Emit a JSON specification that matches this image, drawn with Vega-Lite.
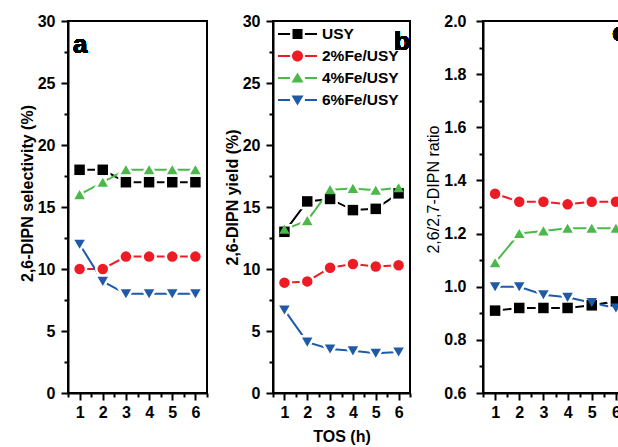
{
  "$schema": "https://vega.github.io/schema/vega-lite/v6.json",
  "padding": {"left": 18, "top": 12, "right": 0, "bottom": 0},
  "background": "white",
  "spacing": 11,
  "resolve": {"scale": {"color": "independent", "shape": "independent"}, "legend": {"color": "independent", "shape": "independent"}},
  "config": {
    "view": {"stroke": "black", "strokeWidth": 2},
    "axis": {"domainColor": "black", "domainWidth": 2, "tickColor": "black", "tickWidth": 2, "labelFont": "Liberation Sans", "labelFontWeight": "bold", "labelFontSize": 16, "labelColor": "black", "titleFont": "Liberation Sans", "titleFontWeight": "bold", "titleFontSize": 16, "titleColor": "black", "grid": false, "labelOverlap": false, "labelFlush": false},
    "text": {"font": "Liberation Sans", "fontWeight": "bold", "fontSize": 26, "color": "black"}
  },
  "data": {"values": [
    {"p": "a", "t": 1, "s": "USY", "v": 18}, {"p": "a", "t": 2, "s": "USY", "v": 18}, {"p": "a", "t": 3, "s": "USY", "v": 17}, {"p": "a", "t": 4, "s": "USY", "v": 17}, {"p": "a", "t": 5, "s": "USY", "v": 17}, {"p": "a", "t": 6, "s": "USY", "v": 17},
    {"p": "a", "t": 1, "s": "2%Fe/USY", "v": 10}, {"p": "a", "t": 2, "s": "2%Fe/USY", "v": 10}, {"p": "a", "t": 3, "s": "2%Fe/USY", "v": 11}, {"p": "a", "t": 4, "s": "2%Fe/USY", "v": 11}, {"p": "a", "t": 5, "s": "2%Fe/USY", "v": 11}, {"p": "a", "t": 6, "s": "2%Fe/USY", "v": 11},
    {"p": "a", "t": 1, "s": "4%Fe/USY", "v": 16}, {"p": "a", "t": 2, "s": "4%Fe/USY", "v": 17}, {"p": "a", "t": 3, "s": "4%Fe/USY", "v": 18}, {"p": "a", "t": 4, "s": "4%Fe/USY", "v": 18}, {"p": "a", "t": 5, "s": "4%Fe/USY", "v": 18}, {"p": "a", "t": 6, "s": "4%Fe/USY", "v": 18},
    {"p": "a", "t": 1, "s": "6%Fe/USY", "v": 12}, {"p": "a", "t": 2, "s": "6%Fe/USY", "v": 9}, {"p": "a", "t": 3, "s": "6%Fe/USY", "v": 8}, {"p": "a", "t": 4, "s": "6%Fe/USY", "v": 8}, {"p": "a", "t": 5, "s": "6%Fe/USY", "v": 8}, {"p": "a", "t": 6, "s": "6%Fe/USY", "v": 8},
    {"p": "b", "t": 1, "s": "USY", "v": 13.0}, {"p": "b", "t": 2, "s": "USY", "v": 15.45}, {"p": "b", "t": 3, "s": "USY", "v": 15.65}, {"p": "b", "t": 4, "s": "USY", "v": 14.75}, {"p": "b", "t": 5, "s": "USY", "v": 14.85}, {"p": "b", "t": 6, "s": "USY", "v": 16.1},
    {"p": "b", "t": 1, "s": "2%Fe/USY", "v": 8.9}, {"p": "b", "t": 2, "s": "2%Fe/USY", "v": 9.0}, {"p": "b", "t": 3, "s": "2%Fe/USY", "v": 10.1}, {"p": "b", "t": 4, "s": "2%Fe/USY", "v": 10.4}, {"p": "b", "t": 5, "s": "2%Fe/USY", "v": 10.2}, {"p": "b", "t": 6, "s": "2%Fe/USY", "v": 10.3},
    {"p": "b", "t": 1, "s": "4%Fe/USY", "v": 13.2}, {"p": "b", "t": 2, "s": "4%Fe/USY", "v": 13.9}, {"p": "b", "t": 3, "s": "4%Fe/USY", "v": 16.4}, {"p": "b", "t": 4, "s": "4%Fe/USY", "v": 16.5}, {"p": "b", "t": 5, "s": "4%Fe/USY", "v": 16.35}, {"p": "b", "t": 6, "s": "4%Fe/USY", "v": 16.55},
    {"p": "b", "t": 1, "s": "6%Fe/USY", "v": 6.7}, {"p": "b", "t": 2, "s": "6%Fe/USY", "v": 4.1}, {"p": "b", "t": 3, "s": "6%Fe/USY", "v": 3.55}, {"p": "b", "t": 4, "s": "6%Fe/USY", "v": 3.4}, {"p": "b", "t": 5, "s": "6%Fe/USY", "v": 3.2}, {"p": "b", "t": 6, "s": "6%Fe/USY", "v": 3.3},
    {"p": "c", "t": 1, "s": "USY", "v": 0.91}, {"p": "c", "t": 2, "s": "USY", "v": 0.92}, {"p": "c", "t": 3, "s": "USY", "v": 0.92}, {"p": "c", "t": 4, "s": "USY", "v": 0.92}, {"p": "c", "t": 5, "s": "USY", "v": 0.93}, {"p": "c", "t": 6, "s": "USY", "v": 0.945},
    {"p": "c", "t": 1, "s": "2%Fe/USY", "v": 1.35}, {"p": "c", "t": 2, "s": "2%Fe/USY", "v": 1.32}, {"p": "c", "t": 3, "s": "2%Fe/USY", "v": 1.32}, {"p": "c", "t": 4, "s": "2%Fe/USY", "v": 1.31}, {"p": "c", "t": 5, "s": "2%Fe/USY", "v": 1.32}, {"p": "c", "t": 6, "s": "2%Fe/USY", "v": 1.32},
    {"p": "c", "t": 1, "s": "4%Fe/USY", "v": 1.09}, {"p": "c", "t": 2, "s": "4%Fe/USY", "v": 1.2}, {"p": "c", "t": 3, "s": "4%Fe/USY", "v": 1.21}, {"p": "c", "t": 4, "s": "4%Fe/USY", "v": 1.22}, {"p": "c", "t": 5, "s": "4%Fe/USY", "v": 1.22}, {"p": "c", "t": 6, "s": "4%Fe/USY", "v": 1.22},
    {"p": "c", "t": 1, "s": "6%Fe/USY", "v": 1.0}, {"p": "c", "t": 2, "s": "6%Fe/USY", "v": 1.0}, {"p": "c", "t": 3, "s": "6%Fe/USY", "v": 0.97}, {"p": "c", "t": 4, "s": "6%Fe/USY", "v": 0.96}, {"p": "c", "t": 5, "s": "6%Fe/USY", "v": 0.94}, {"p": "c", "t": 6, "s": "6%Fe/USY", "v": 0.92}
  ]},
  "hconcat": [
    {
      "width": 139, "height": 372,
      "transform": [{"filter": "datum.p === 'a'"}],
      "encoding": {
        "x": {"field": "t", "type": "quantitative", "scale": {"domain": [0.5, 6.5], "nice": false, "zero": false},
          "axis": {"title": null, "values": [0.5, 1, 1.5, 2, 2.5, 3, 3.5, 4, 4.5, 5, 5.5, 6, 6.5], "labelExpr": "datum.value % 1 === 0 ? format(datum.value, 'd') : ''", "tickSize": {"condition": {"test": "datum.value % 1 === 0", "value": 7}, "value": 4}, "labelPadding": 4}},
        "y": {"field": "v", "type": "quantitative", "scale": {"domain": [0, 30], "nice": false},
          "axis": {"title": "2,6-DIPN selectivity (%)", "titleY": 172, "values": [0, 2.5, 5, 7.5, 10, 12.5, 15, 17.5, 20, 22.5, 25, 27.5, 30], "labelExpr": "datum.value % 5 === 0 ? format(datum.value, 'd') : ''", "tickSize": {"condition": {"test": "datum.value % 5 === 0", "value": 7}, "value": 4}, "labelPadding": 6, "titlePadding": 2}},
        "color": {"field": "s", "type": "nominal", "scale": {"domain": ["USY", "2%Fe/USY", "4%Fe/USY", "6%Fe/USY"], "range": ["#000000", "#ed1c24", "#4cb849", "#1f5aa8"]}, "legend": null}
      },
      "layer": [
        {"mark": {"type": "line", "strokeWidth": 2}},
        {"mark": {"type": "point", "filled": true, "opacity": 1, "size": 110, "stroke": "white", "strokeWidth": 5},
          "encoding": {"shape": {"field": "s", "type": "nominal", "scale": {"domain": ["USY", "2%Fe/USY", "4%Fe/USY", "6%Fe/USY"], "range": ["square", "circle", "triangle-up", "triangle-down"]}, "legend": null}}},
        {"mark": {"type": "point", "filled": true, "opacity": 1, "size": 110, "strokeWidth": 0},
          "encoding": {"shape": {"field": "s", "type": "nominal", "scale": {"domain": ["USY", "2%Fe/USY", "4%Fe/USY", "6%Fe/USY"], "range": ["square", "circle", "triangle-up", "triangle-down"]}, "legend": null}}},
        {"mark": {"type": "text", "text": "a", "align": "left", "baseline": "alphabetic"},
          "encoding": {"x": {"datum": 0.72}, "y": {"datum": 27.4}, "color": {"value": "black"}}}
      ]
    },
    {
      "spacing": 9,
      "resolve": {"scale": {"color": "independent", "shape": "independent"}, "legend": {"color": "independent", "shape": "independent"}},
      "hconcat": [
        {
          "width": 137, "height": 372,
          "transform": [{"filter": "datum.p === 'b'"}],
          "resolve": {"scale": {"color": "independent", "shape": "independent"}},
          "encoding": {
            "x": {"field": "t", "type": "quantitative", "scale": {"domain": [0.5, 6.5], "nice": false, "zero": false},
              "axis": {"title": "TOS (h)", "values": [0.5, 1, 1.5, 2, 2.5, 3, 3.5, 4, 4.5, 5, 5.5, 6, 6.5], "labelExpr": "datum.value % 1 === 0 ? format(datum.value, 'd') : ''", "tickSize": {"condition": {"test": "datum.value % 1 === 0", "value": 7}, "value": 4}, "labelPadding": 4, "titlePadding": 8}},
            "y": {"field": "v", "type": "quantitative", "scale": {"domain": [0, 30], "nice": false},
              "axis": {"title": "2,6-DIPN yield (%)", "titleY": 176, "values": [0, 2.5, 5, 7.5, 10, 12.5, 15, 17.5, 20, 22.5, 25, 27.5, 30], "labelExpr": "datum.value % 5 === 0 ? format(datum.value, 'd') : ''", "tickSize": {"condition": {"test": "datum.value % 5 === 0", "value": 7}, "value": 4}, "labelPadding": 6, "titlePadding": 2}}
          },
          "layer": [
            {"mark": {"type": "line", "strokeWidth": 2},
              "encoding": {"color": {"field": "s", "type": "nominal", "scale": {"domain": ["USY", "2%Fe/USY", "4%Fe/USY", "6%Fe/USY"], "range": ["#000000", "#ed1c24", "#4cb849", "#1f5aa8"]}, "legend": null}}},
            {"mark": {"type": "point", "filled": true, "opacity": 1, "size": 110, "stroke": "white", "strokeWidth": 5},
              "encoding": {
                "color": {"field": "s", "type": "nominal", "scale": {"domain": ["USY", "2%Fe/USY", "4%Fe/USY", "6%Fe/USY"], "range": ["#000000", "#ed1c24", "#4cb849", "#1f5aa8"]}, "legend": null},
                "shape": {"field": "s", "type": "nominal", "scale": {"domain": ["USY", "2%Fe/USY", "4%Fe/USY", "6%Fe/USY"], "range": ["square", "circle", "triangle-up", "triangle-down"]}, "legend": null}}},
            {"mark": {"type": "point", "filled": true, "opacity": 1, "size": 110, "strokeWidth": 0},
              "encoding": {
                "color": {"field": "s", "type": "nominal", "scale": {"domain": ["USY", "2%Fe/USY", "4%Fe/USY", "6%Fe/USY"], "range": ["#000000", "#ed1c24", "#4cb849", "#1f5aa8"]}, "legend": null},
                "shape": {"field": "s", "type": "nominal", "scale": {"domain": ["USY", "2%Fe/USY", "4%Fe/USY", "6%Fe/USY"], "range": ["square", "circle", "triangle-up", "triangle-down"]}, "legend": null}}},
            {"transform": [{"filter": "false"}],
              "mark": {"type": "point", "filled": true, "opacity": 1, "size": 256, "strokeWidth": 0},
              "encoding": {
                "color": {"field": "s", "type": "nominal", "scale": {"domain": ["USY", "2%Fe/USY", "4%Fe/USY", "6%Fe/USY"], "range": ["#000000", "#ed1c24", "#4cb849", "#1f5aa8"]},
                  "legend": {"orient": "top-left", "offset": 5, "title": null, "symbolSize": 256, "symbolStrokeWidth": 0, "labelFont": "Liberation Sans", "labelFontWeight": "bold", "labelFontSize": 15.5, "labelOffset": 28, "rowPadding": 5, "padding": 0,
                    "encode": {"labels": {"update": {"fill": {"signal": "datum.value === 'USY' ? '#000000' : datum.value === '2%Fe/USY' ? '#ed1c24' : datum.value === '4%Fe/USY' ? '#4cb849' : '#1f5aa8'"}}}}}},
                "shape": {"field": "s", "type": "nominal", "scale": {"domain": ["USY", "2%Fe/USY", "4%Fe/USY", "6%Fe/USY"], "range": [
                  "M-1,-0.125H0.5125V0.125H-1Z M2.3625,-0.125H3.875V0.125H2.3625Z M0.8125,-0.625H2.0625V0.625H0.8125Z",
                  "M-1,-0.125H0.5125V0.125H-1Z M2.3625,-0.125H3.875V0.125H2.3625Z M0.75,0A0.6875,0.6875,0,1,0,2.125,0A0.6875,0.6875,0,1,0,0.75,0Z",
                  "M-1,-0.125H0.5125V0.125H-1Z M2.3625,-0.125H3.875V0.125H2.3625Z M1.4375,-0.7L2.1875,0.56L0.6875,0.56Z",
                  "M-1,-0.125H0.5125V0.125H-1Z M2.3625,-0.125H3.875V0.125H2.3625Z M1.4375,0.7L2.1875,-0.56L0.6875,-0.56Z"]},
                  "legend": {"orient": "top-left", "offset": 5, "title": null, "symbolSize": 256, "symbolStrokeWidth": 0, "labelFont": "Liberation Sans", "labelFontWeight": "bold", "labelFontSize": 15.5, "labelOffset": 28, "rowPadding": 5, "padding": 0,
                    "encode": {"labels": {"update": {"fill": {"signal": "datum.value === 'USY' ? '#000000' : datum.value === '2%Fe/USY' ? '#ed1c24' : datum.value === '4%Fe/USY' ? '#4cb849' : '#1f5aa8'"}}}}}}}},
            {"mark": {"type": "text", "text": "b", "align": "right", "baseline": "alphabetic"},
              "encoding": {"x": {"datum": 6.5}, "y": {"datum": 27.7}, "color": {"value": "black"}}}
          ]
        },
        {
          "width": 145, "height": 372,
          "transform": [{"filter": "datum.p === 'c'"}],
          "encoding": {
            "x": {"field": "t", "type": "quantitative", "scale": {"domain": [0.5, 6.5], "nice": false, "zero": false},
              "axis": {"title": null, "values": [0.5, 1, 1.5, 2, 2.5, 3, 3.5, 4, 4.5, 5, 5.5, 6, 6.5], "labelExpr": "datum.value % 1 === 0 ? format(datum.value, 'd') : ''", "tickSize": {"condition": {"test": "datum.value % 1 === 0", "value": 7}, "value": 4}, "labelPadding": 4}},
            "y": {"field": "v", "type": "quantitative", "scale": {"domain": [0.6, 2.0], "nice": false, "zero": false},
              "axis": {"title": "2,6/2,7-DIPN ratio", "titleY": 168, "titleFontWeight": "normal", "values": [0.6, 0.7, 0.8, 0.9, 1.0, 1.1, 1.2, 1.3, 1.4, 1.5, 1.6, 1.7, 1.8, 1.9, 2.0], "labelExpr": "round(datum.value * 10) % 2 === 0 ? format(datum.value, '.1f') : ''", "tickSize": {"condition": {"test": "round(datum.value * 10) % 2 === 0", "value": 7}, "value": 4}, "labelPadding": 10, "titlePadding": 2}},
            "color": {"field": "s", "type": "nominal", "scale": {"domain": ["USY", "2%Fe/USY", "4%Fe/USY", "6%Fe/USY"], "range": ["#000000", "#ed1c24", "#4cb849", "#1f5aa8"]}, "legend": null}
          },
          "layer": [
            {"mark": {"type": "line", "strokeWidth": 2}},
            {"mark": {"type": "point", "filled": true, "opacity": 1, "size": 110, "stroke": "white", "strokeWidth": 5},
              "encoding": {"shape": {"field": "s", "type": "nominal", "scale": {"domain": ["USY", "2%Fe/USY", "4%Fe/USY", "6%Fe/USY"], "range": ["square", "circle", "triangle-up", "triangle-down"]}, "legend": null}}},
            {"mark": {"type": "point", "filled": true, "opacity": 1, "size": 110, "strokeWidth": 0},
              "encoding": {"shape": {"field": "s", "type": "nominal", "scale": {"domain": ["USY", "2%Fe/USY", "4%Fe/USY", "6%Fe/USY"], "range": ["square", "circle", "triangle-up", "triangle-down"]}, "legend": null}}},
            {"mark": {"type": "text", "text": "c", "align": "left", "baseline": "alphabetic"},
              "encoding": {"x": {"datum": 5.85}, "y": {"datum": 1.926}, "color": {"value": "black"}}}
          ]
        }
      ]
    }
  ]
}
